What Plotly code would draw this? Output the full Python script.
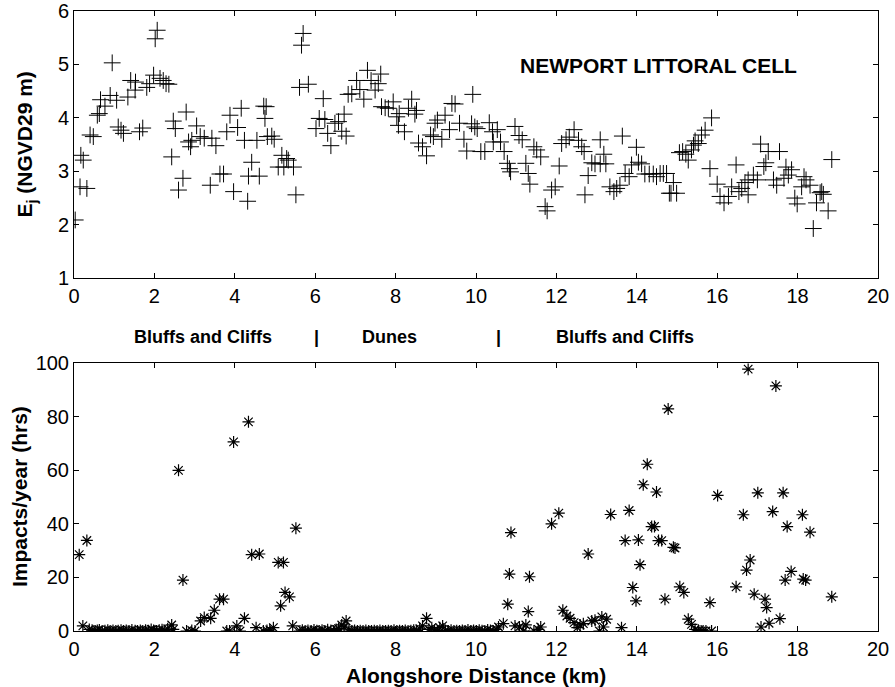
import plotly.graph_objects as go

# ---- Top panel: Ej (NGVD29 m) vs alongshore distance (km)
ej_x = [0.03,0.15,0.17,0.23,0.32,0.40,0.48,0.58,0.63,0.66,0.77,0.90,0.95,1.06,1.10,1.17,1.23,1.34,1.41,1.52,1.53,1.63,1.71,1.81,1.88,1.98,2.02,2.07,2.14,2.22,2.29,2.36,2.43,2.47,2.52,2.60,2.71,2.79,2.85,2.90,2.93,3.05,3.14,3.24,3.39,3.43,3.53,3.63,3.72,3.80,3.88,3.97,4.07,4.16,4.24,4.32,4.34,4.42,4.55,4.61,4.72,4.75,4.78,4.81,4.92,4.98,5.08,5.17,5.22,5.29,5.33,5.46,5.52,5.61,5.66,5.70,5.83,6.02,6.10,6.20,6.24,6.31,6.39,6.49,6.58,6.66,6.72,6.77,6.82,6.91,7.03,7.11,7.21,7.30,7.39,7.49,7.57,7.63,7.65,7.74,7.82,7.94,8.03,8.07,8.09,8.22,8.32,8.40,8.48,8.52,8.57,8.67,8.77,8.87,8.94,8.98,9.04,9.15,9.23,9.34,9.40,9.48,9.59,9.70,9.77,9.89,9.92,9.97,10.03,10.12,10.22,10.33,10.41,10.43,10.53,10.61,10.70,10.78,10.83,10.86,10.97,11.07,11.15,11.24,11.30,11.34,11.44,11.51,11.61,11.72,11.77,11.88,11.97,12.07,12.13,12.24,12.32,12.44,12.55,12.63,12.69,12.71,12.79,12.88,12.96,13.09,13.09,13.18,13.23,13.33,13.43,13.50,13.58,13.64,13.71,13.81,13.87,13.99,14.04,14.12,14.20,14.31,14.41,14.49,14.58,14.66,14.74,14.81,14.85,14.91,14.99,15.06,15.14,15.22,15.28,15.36,15.41,15.45,15.53,15.61,15.70,15.82,15.86,16.00,16.07,16.17,16.28,16.36,16.47,16.54,16.61,16.69,16.77,16.77,16.90,17.00,17.08,17.16,17.21,17.27,17.40,17.48,17.55,17.66,17.71,17.77,17.85,17.93,17.99,18.10,18.16,18.21,18.31,18.39,18.47,18.56,18.60,18.64,18.76,18.85]
ej_y = [2.09,2.71,3.30,3.21,2.68,3.68,3.65,4.05,4.08,4.34,4.22,4.42,5.03,4.33,3.83,3.77,3.71,4.39,4.70,4.52,4.67,3.74,3.81,4.57,4.64,4.80,5.48,5.64,4.74,4.70,4.64,4.63,3.27,3.94,3.80,2.65,2.87,4.11,3.55,3.46,3.58,3.85,3.65,3.62,2.74,3.62,3.48,2.95,2.95,3.74,4.05,2.62,3.82,4.18,3.58,2.44,2.91,3.17,3.58,2.91,4.22,3.99,4.21,3.65,3.66,3.60,3.08,3.30,3.08,3.24,3.21,3.08,2.56,4.57,5.36,5.58,4.63,3.80,3.99,4.36,3.97,3.71,3.48,3.90,3.93,3.75,4.07,3.66,4.44,4.45,4.70,4.53,4.35,4.89,4.70,4.52,4.64,4.82,4.21,4.19,4.18,4.30,4.02,3.86,4.08,3.74,4.18,4.35,4.07,4.14,3.53,3.46,3.29,3.68,3.65,3.90,3.96,3.60,4.05,3.78,4.27,4.26,3.90,3.60,3.38,3.89,4.44,3.83,3.80,3.37,3.37,3.91,3.74,3.55,3.78,3.55,3.37,3.15,3.05,2.99,3.84,3.67,3.59,3.15,2.96,2.76,3.46,3.40,3.27,2.34,2.26,2.65,2.71,3.10,3.52,3.59,3.64,3.78,3.58,3.46,3.37,2.56,2.92,3.16,3.14,3.59,3.14,3.32,3.14,2.71,2.62,2.68,2.74,3.66,2.96,2.90,3.12,3.45,3.17,3.14,2.95,2.95,2.95,2.90,2.96,2.96,2.96,2.59,2.59,2.79,2.59,3.35,3.37,3.32,3.21,3.40,3.49,3.57,3.52,3.68,3.77,3.05,4.00,2.76,2.53,2.41,2.53,2.71,3.12,2.62,2.68,2.79,2.56,2.84,2.93,2.84,3.51,3.09,3.16,3.37,2.84,2.74,3.37,2.87,3.08,2.93,3.03,2.50,2.39,2.71,2.90,2.84,2.74,1.93,2.41,2.60,2.62,2.57,2.26,3.22]

# ---- Bottom panel: impacts/year (hrs) vs alongshore distance (km)
imp_x = [0.13,0.22,0.32,0.38,0.45,0.52,0.58,0.63,0.70,0.77,0.84,0.90,0.97,1.04,1.10,1.17,1.23,1.30,1.37,1.44,1.52,1.58,1.65,1.71,1.78,1.85,1.92,1.98,2.05,2.12,2.19,2.26,2.33,2.43,2.47,2.60,2.71,2.80,2.93,3.01,3.15,3.24,3.40,3.49,3.62,3.72,3.80,3.87,3.97,4.05,4.13,4.24,4.34,4.42,4.53,4.61,4.71,4.80,4.87,4.96,5.08,5.14,5.21,5.25,5.36,5.44,5.52,5.62,5.68,5.75,5.82,5.90,5.97,6.04,6.10,6.17,6.24,6.31,6.39,6.46,6.52,6.58,6.66,6.72,6.77,6.84,6.91,6.98,7.05,7.12,7.19,7.26,7.33,7.40,7.47,7.54,7.61,7.68,7.75,7.82,7.89,7.96,8.03,8.10,8.17,8.24,8.31,8.38,8.45,8.52,8.60,8.67,8.77,8.83,8.90,8.97,9.04,9.10,9.17,9.24,9.31,9.38,9.45,9.52,9.59,9.66,9.73,9.80,9.87,9.94,10.01,10.08,10.15,10.22,10.29,10.36,10.43,10.50,10.56,10.68,10.79,10.83,10.87,10.97,11.08,11.18,11.24,11.30,11.33,11.44,11.55,11.61,11.88,12.06,12.16,12.26,12.34,12.44,12.52,12.59,12.67,12.79,12.88,12.96,13.07,13.13,13.17,13.25,13.35,13.62,13.71,13.81,13.90,13.98,14.04,14.08,14.16,14.26,14.37,14.44,14.49,14.54,14.62,14.70,14.78,14.91,14.95,15.07,15.17,15.28,15.36,15.45,15.53,15.60,15.65,15.72,15.82,15.86,16.01,16.47,16.65,16.73,16.77,16.82,16.92,17.01,17.09,17.19,17.23,17.29,17.38,17.46,17.56,17.64,17.69,17.74,17.84,18.12,18.14,18.20,18.31,18.85]
imp_y = [28.5,1.9,33.8,0.6,0.3,0,0.2,0.4,0,0.1,0.3,0,0.2,0,0.1,0.3,0,0.2,0,0.4,0.1,0,0.2,0,0.3,0.1,0.6,0.2,0,0.3,0.5,0.2,0.8,2.25,0.6,60,19,0,0.2,0,3.75,5,4.75,7.75,11.9,11.9,0,0,70.6,1.9,0,4.75,78.1,28.5,1.25,28.75,0,0.2,0.4,1.25,25.6,9.4,25.6,14.4,12.75,1.9,38.4,0,0.3,0,0.2,0,0.4,0.1,0,0.3,0,0.5,0.2,0,0.6,0.9,2.25,1.5,3.75,0.4,0,0.2,0,0.1,0,0.2,0,0,0.1,0,0.2,0,0,0.1,0,0.3,0,0.1,0,0.2,0,0.1,0.3,0.2,0.8,1.9,4.75,0.6,1.25,0.3,0,1.25,1.9,0.2,0,0.3,0,0.1,0,0.2,0,0.4,0,0.2,0,0.3,0.1,0,0.4,0.2,0,0.6,1.5,2.75,10,21.25,36.75,1.9,1.5,0,2.25,7.25,20.25,0,0.6,1.5,40,44,7.75,5.6,4.75,3.1,1.25,2.25,2.75,28.75,3.75,4,0,5.25,1.5,4.4,43.5,1.25,33.75,45,16.25,11.25,34,24.75,54.6,62.25,39,39,51.9,33.75,33.75,11.9,82.9,31.25,31,16.5,14.4,4.4,2.5,0.6,0.25,0,0,0,10.6,0,50.6,16.5,43.4,22.75,97.75,26.5,13.75,51.6,1.5,11.9,8.75,2.9,44.6,91.5,4.6,51.6,19,39,22.25,43.4,19.4,19,36.9,12.75]

x_ticks = [0, 2, 4, 6, 8, 10, 12, 14, 16, 18, 20]
ej_ticks = [1, 2, 3, 4, 5, 6]
imp_ticks = [0, 20, 40, 60, 80, 100]

section_labels = ["Bluffs and Cliffs", "|", "Dunes", "|", "Bluffs and Cliffs"]
section_pos = [3.22, 6.04, 7.86, 10.56, 13.71]

FONT = "Liberation Sans, Arial, Helvetica, sans-serif"

fig = go.Figure()
fig.add_trace(go.Scatter(
    x=ej_x, y=ej_y, mode="markers", xaxis="x", yaxis="y",
    marker=dict(symbol="cross-thin-open", size=12, color="black",
                line=dict(width=1, color="black")),
    showlegend=False))
fig.add_trace(go.Scatter(
    x=imp_x, y=imp_y, mode="markers", xaxis="x2", yaxis="y2",
    marker=dict(symbol="asterisk-open", size=10, color="black",
                line=dict(width=1.2, color="black")),
    showlegend=False))

axis_common = dict(showline=True, linecolor="black", linewidth=1, mirror="ticks",
                   ticks="inside", ticklen=5, tickcolor="black", tickwidth=1,
                   showgrid=False, zeroline=False, automargin=False,
                   tickfont=dict(family=FONT, size=20, color="black"))

fig.update_layout(
    template="none",
    width=895, height=687,
    margin=dict(l=74, r=17, t=11, b=56),
    paper_bgcolor="white", plot_bgcolor="white",
    font=dict(family=FONT, color="black"),
    xaxis=dict(domain=[0, 1], range=[0, 20], tickvals=x_ticks, anchor="y", **axis_common),
    yaxis=dict(domain=[0.569, 1.0], range=[1, 6], tickvals=ej_ticks, anchor="x", **axis_common),
    xaxis2=dict(domain=[0, 1], range=[0, 20], tickvals=x_ticks, anchor="y2", **axis_common),
    yaxis2=dict(domain=[0, 0.432], range=[0, 100], tickvals=imp_ticks, anchor="x2", **axis_common),
)

bold = dict(family=FONT, color="black", weight="bold")
anns = []
anns.append(dict(text="NEWPORT LITTORAL CELL", x=14.55, y=4.985, xref="x", yref="y",
                 showarrow=False, xanchor="center", yanchor="middle",
                 font=dict(size=21, **bold)))
for lab, pos in zip(section_labels, section_pos):
    anns.append(dict(text=lab, x=pos, y=0.474, xref="x", yref="paper",
                     showarrow=False, xanchor="center", yanchor="middle",
                     font=dict(size=18, **bold)))
anns.append(dict(text="E<sub>j</sub> (NGVD29 m)", x=-0.0597, y=0.5, xref="paper", yref="y domain",
                 showarrow=False, textangle=-90, xanchor="center", yanchor="middle",
                 font=dict(size=21, **bold)))
anns.append(dict(text="Impacts/year (hrs)", x=-0.0684, y=0.5, xref="paper", yref="y2 domain",
                 showarrow=False, textangle=-90, xanchor="center", yanchor="middle",
                 font=dict(size=21, **bold)))
anns.append(dict(text="Alongshore Distance (km)", x=0.5, y=-0.071, xref="paper", yref="paper",
                 showarrow=False, xanchor="center", yanchor="middle",
                 font=dict(size=21, **bold)))
fig.update_layout(annotations=anns)

fig.write_html(
    "out.html",
    config={"displayModeBar": False},
    post_script="document.body.style.margin='0';document.body.style.overflow='hidden';",
)
